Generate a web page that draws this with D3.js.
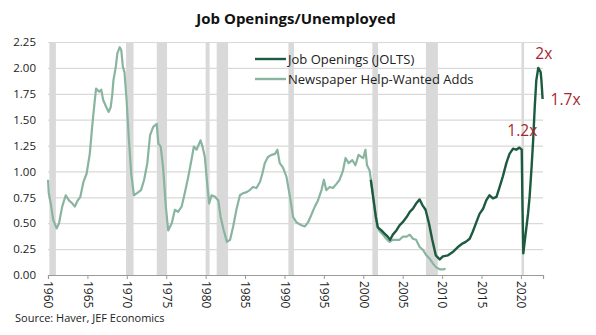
<!DOCTYPE html>
<html>
<head>
<meta charset="utf-8">
<script src="https://cdn.jsdelivr.net/npm/d3@7"></script>
<style>
  html, body { margin: 0; padding: 0; background: #fff; }
  svg { display: block; }
  text { font-family: "Open Sans", "Noto Sans", sans-serif; }
</style>
</head>
<body>
<svg id="chart" width="596" height="335"></svg>
<script>
// Ratio of job openings to unemployed persons, by year (decimal dates)
const newspaperAds = [
  [1960.0, 0.92], [1960.1, 0.79], [1960.35, 0.69], [1960.67, 0.53], [1961.1, 0.45],
  [1961.4, 0.50], [1961.8, 0.66], [1962.25, 0.77], [1962.66, 0.72], [1963.1, 0.69],
  [1963.4, 0.66], [1963.7, 0.71], [1964.1, 0.755], [1964.5, 0.90], [1964.9, 0.98],
  [1965.3, 1.17], [1965.6, 1.43], [1965.9, 1.66], [1966.1, 1.80], [1966.5, 1.77],
  [1966.75, 1.79], [1967.0, 1.69], [1967.4, 1.62], [1967.7, 1.575], [1967.95, 1.62],
  [1968.15, 1.74], [1968.3, 1.88], [1968.6, 2.01], [1968.8, 2.14], [1969.1, 2.20],
  [1969.3, 2.17], [1969.5, 2.01], [1969.7, 1.96], [1969.97, 1.69], [1970.27, 1.30],
  [1970.56, 0.98], [1970.9, 0.77], [1971.3, 0.79], [1971.8, 0.82], [1972.2, 0.92],
  [1972.6, 1.08], [1972.95, 1.35], [1973.35, 1.43], [1973.8, 1.46], [1974.0, 1.27],
  [1974.3, 1.24], [1974.6, 1.04], [1974.95, 0.66], [1975.25, 0.43], [1975.7, 0.50],
  [1976.1, 0.63], [1976.5, 0.61], [1976.95, 0.66], [1977.35, 0.79], [1977.8, 0.95],
  [1978.2, 1.11], [1978.5, 1.24], [1978.85, 1.21], [1979.35, 1.30], [1979.6, 1.24],
  [1979.9, 1.14], [1980.2, 0.88], [1980.45, 0.69], [1980.75, 0.77], [1981.2, 0.755],
  [1981.6, 0.72], [1981.9, 0.56], [1982.3, 0.43], [1982.7, 0.32], [1983.1, 0.34],
  [1983.5, 0.47], [1983.9, 0.63], [1984.35, 0.77], [1984.75, 0.79], [1985.2, 0.80],
  [1985.6, 0.82], [1986.0, 0.85], [1986.45, 0.84], [1986.9, 0.90], [1987.2, 0.98],
  [1987.5, 1.08], [1987.9, 1.14], [1988.35, 1.16], [1988.8, 1.17], [1989.1, 1.21],
  [1989.4, 1.08], [1989.8, 1.04], [1990.25, 0.95], [1990.7, 0.755], [1991.1, 0.56],
  [1991.5, 0.51], [1992.15, 0.48], [1992.6, 0.47], [1993.0, 0.51], [1993.4, 0.58],
  [1993.85, 0.66], [1994.25, 0.72], [1994.7, 0.82], [1995.0, 0.92], [1995.3, 0.82],
  [1995.75, 0.85], [1996.15, 0.84], [1996.6, 0.88], [1997.0, 0.92], [1997.4, 1.00],
  [1997.75, 1.13], [1998.15, 1.08], [1998.6, 1.11], [1999.0, 1.06], [1999.4, 1.16],
  [1999.75, 1.14], [2000.0, 1.13], [2000.27, 1.21], [2000.47, 1.06], [2000.8, 1.01],
  [2001.15, 0.82], [2001.45, 0.63], [2001.74, 0.47], [2002.1, 0.42], [2002.5, 0.39],
  [2002.9, 0.35], [2003.35, 0.32], [2003.75, 0.34], [2004.2, 0.34], [2004.6, 0.34],
  [2005.0, 0.37], [2005.5, 0.37], [2005.9, 0.39], [2006.3, 0.35], [2006.7, 0.34],
  [2007.15, 0.27], [2007.6, 0.24], [2008.0, 0.19], [2008.4, 0.16], [2008.85, 0.11],
  [2009.25, 0.074], [2009.7, 0.055], [2010.1, 0.055], [2010.45, 0.06]
];

const joltsOpenings = [
  [2000.95, 0.92], [2001.25, 0.755], [2001.6, 0.56], [2001.85, 0.46], [2002.3, 0.43],
  [2002.7, 0.40], [2003.1, 0.37], [2003.4, 0.34], [2003.75, 0.39], [2004.2, 0.43],
  [2004.6, 0.48], [2005.0, 0.51], [2005.5, 0.56], [2005.9, 0.61], [2006.3, 0.64],
  [2006.7, 0.69], [2007.15, 0.73], [2007.5, 0.675], [2007.9, 0.63], [2008.33, 0.50],
  [2008.75, 0.34], [2009.2, 0.19], [2009.7, 0.15], [2010.1, 0.18], [2010.75, 0.19],
  [2011.4, 0.225], [2012.0, 0.27], [2012.5, 0.30], [2013.0, 0.32], [2013.5, 0.35],
  [2013.9, 0.42], [2014.35, 0.51], [2014.75, 0.59], [2015.2, 0.64], [2015.6, 0.72],
  [2016.0, 0.77], [2016.45, 0.74], [2016.9, 0.755], [2017.3, 0.85], [2017.7, 0.95],
  [2018.15, 1.08], [2018.55, 1.17], [2019.0, 1.22], [2019.4, 1.21], [2019.8, 1.23],
  [2020.1, 1.21], [2020.2, 0.66], [2020.3, 0.21], [2020.6, 0.40], [2020.9, 0.59],
  [2021.1, 0.755], [2021.35, 1.04], [2021.55, 1.30], [2021.75, 1.62], [2021.95, 1.88],
  [2022.2, 2.00], [2022.5, 1.96], [2022.6, 1.88], [2022.75, 1.70]
];

// NBER recession periods (start, end)
const recessions = [
  [1960.17, 1961.0], [1969.9, 1970.85], [1973.8, 1975.1], [1980.0, 1980.5],
  [1981.4, 1982.85], [1990.5, 1991.2], [2001.15, 2001.86], [2007.95, 2009.46],
  [2020.07, 2020.4]
];

const yearTicks = [1960, 1965, 1970, 1975, 1980, 1985, 1990, 1995, 2000, 2005, 2010, 2015, 2020];
const valueTicks = [0, 0.25, 0.5, 0.75, 1.0, 1.25, 1.5, 1.75, 2.0, 2.25];

const seriesNames = ["Job Openings (JOLTS)", "Newspaper Help-Wanted Adds"];
const callouts = [
  { label: "2x", year: 2022.2, value: 2.00 },
  { label: "1.7x", year: 2022.75, value: 1.70 },
  { label: "1.2x", year: 2019.8, value: 1.23 }
];

const svg = d3.select("#chart");
const margin = { left: 48, right: 53, top: 42, bottom: 60 };
const W = 596, H = 335;

const x = d3.scaleLinear().domain([1960, 2022.8]).range([margin.left, W - margin.right]);
const y = d3.scaleLinear().domain([0, 2.25]).range([H - margin.bottom, margin.top]);

const colors = { jolts: "#1d5b41", ads: "#89b4a0", red: "#a7262b", grid: "#d9d9d9" };

// Title
svg.append("text")
  .attr("x", 296).attr("y", 24)
  .attr("text-anchor", "middle")
  .attr("font-weight", 700)
  .attr("font-size", 15)
  .attr("fill", "#111")
  .text("Job Openings/Unemployed");

// Recession shading
svg.append("g").selectAll("rect")
  .data(recessions)
  .join("rect")
  .attr("x", d => x(d[0]))
  .attr("width", d => x(d[1]) - x(d[0]))
  .attr("y", y(2.25))
  .attr("height", y(0) - y(2.25))
  .attr("fill", "#d9d9d9");

// Horizontal gridlines and value labels
const yAxis = d3.axisLeft(y)
  .tickValues(valueTicks)
  .tickSize(-(x.range()[1] - x.range()[0]))
  .tickPadding(12)
  .tickFormat(d3.format(".2f"));
const gy = svg.append("g").attr("transform", `translate(${margin.left},0)`).call(yAxis);
gy.select(".domain").remove();
gy.selectAll(".tick line").attr("stroke", colors.grid).attr("stroke-width", 1.2);
gy.selectAll(".tick text").attr("font-size", 11.5).attr("fill", "#222")
  .attr("font-family", "'Open Sans', sans-serif");

// Year axis
const xAxis = d3.axisBottom(x).tickValues(yearTicks).tickSize(4).tickFormat(d3.format("d"));
const gx = svg.append("g").attr("transform", `translate(0,${y(0)})`).call(xAxis);
gx.select(".domain").attr("stroke", "#9a9a9a").attr("stroke-width", 1.2);
gx.selectAll(".tick line").attr("stroke", "#9a9a9a");
gx.selectAll(".tick text")
  .attr("font-size", 12).attr("fill", "#222")
  .attr("font-family", "'Open Sans', sans-serif")
  .attr("transform", "rotate(90)")
  .attr("x", 6).attr("y", 0).attr("dy", "0.35em")
  .attr("text-anchor", "start");

// Series lines
const line = d3.line().x(d => x(d[0])).y(d => y(d[1]));
svg.append("path").datum(newspaperAds)
  .attr("fill", "none").attr("stroke", colors.ads).attr("stroke-width", 2.2)
  .attr("stroke-linejoin", "round").attr("d", line);
svg.append("path").datum(joltsOpenings)
  .attr("fill", "none").attr("stroke", colors.jolts).attr("stroke-width", 2.4)
  .attr("stroke-linejoin", "round").attr("d", line);

// Legend
const legend = svg.append("g");
[colors.jolts, colors.ads].forEach((c, i) => {
  const ly = 59 + i * 20;
  legend.append("line").attr("x1", 255).attr("x2", 286).attr("y1", ly).attr("y2", ly)
    .attr("stroke", c).attr("stroke-width", 2.4);
  legend.append("text").attr("x", 288).attr("y", ly + 5)
    .attr("font-size", 13).attr("fill", "#222").text(seriesNames[i]);
});

// Callout labels
const offsets = { "2x": [-3, -9, "start"], "1.7x": [8, 6, "start"], "1.2x": [-12, -12, "start"] };
svg.append("g").selectAll("text")
  .data(callouts)
  .join("text")
  .attr("x", d => x(d.year) + offsets[d.label][0])
  .attr("y", d => y(d.value) + offsets[d.label][1])
  .attr("font-size", 15.5)
  .attr("fill", colors.red)
  .text(d => d.label);

// Source note
svg.append("text")
  .attr("x", 15).attr("y", 322)
  .attr("font-size", 11)
  .attr("fill", "#222")
  .text("Source: Haver, JEF Economics");
</script>
</body>
</html>
